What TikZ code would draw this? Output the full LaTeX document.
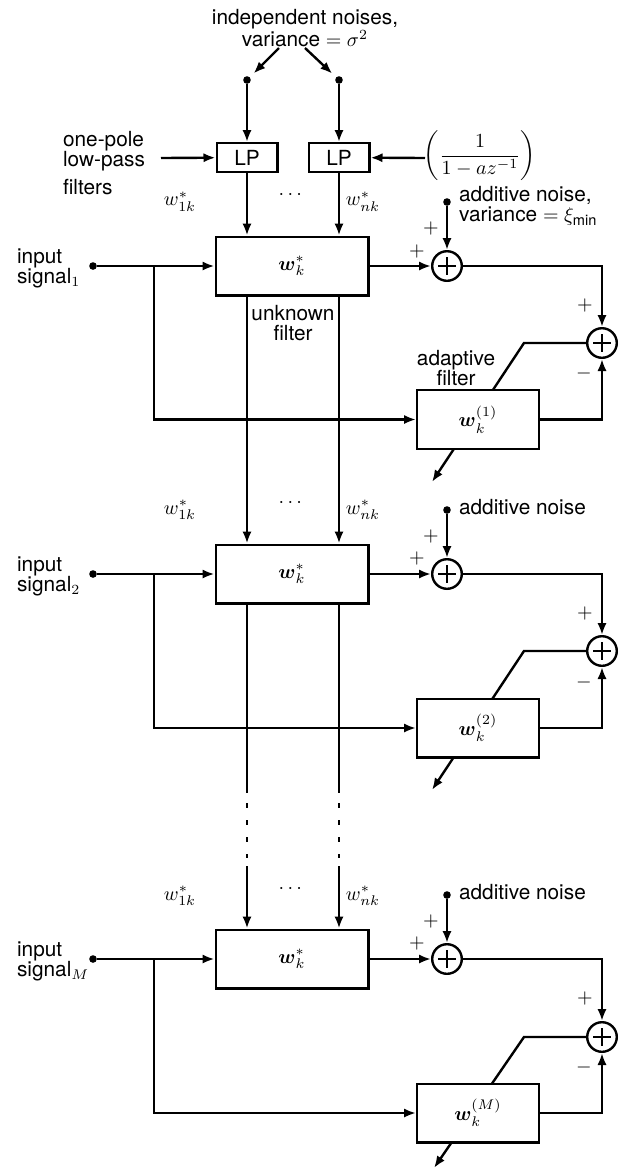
\documentclass[tikz,border=0pt]{standalone}
\usepackage{amsmath}
\usepackage{amssymb}
\usepackage{fontspec}
\setmainfont{TeX Gyre Heros}
\usetikzlibrary{arrows.meta,positioning,backgrounds}
\tikzset{
  every node/.style={font=\fontsize{10.4pt}{10pt}\selectfont},
  filterbox/.style={draw, line width=1.2pt, fill=white, minimum width=76.3pt, minimum height=29.3pt, inner sep=0pt},
  adaptbox/.style={filterbox, minimum width=60.8pt},
  lpbox/.style={draw, line width=1.2pt, minimum width=30.3pt, minimum height=14.3pt, inner sep=0pt},
  sumnode/.style={draw, circle, line width=1.2pt, minimum size=14.8pt, inner sep=0pt,
    path picture={\draw[line width=1.2pt] ([xshift=-4.3pt]path picture bounding box.center) -- ([xshift=4.3pt]path picture bounding box.center)
      ([yshift=-4.3pt]path picture bounding box.center) -- ([yshift=4.3pt]path picture bounding box.center);}},
  src/.style={circle, fill, inner sep=0pt, minimum size=3.8pt},
  sign/.style={inner sep=0pt},
  wire/.style={line width=1.2pt},
  flow/.style={-{Latex[length=6pt, width=4.6pt]}, line width=1.2pt}
}
\begin{document}
\begin{tikzpicture}[x=0.5pt, y=-0.5pt]
\useasboundingbox (0,0) rectangle (623,1175);
% noise sources and low-pass filters
\node[align=center] (noises) at (305,28) {independent noises,\\variance $=\sigma^2$};
\node[src] (src1) at (247,80) {};
\node[src] (src2) at (339,80) {};
\coordinate (tail1) at (279,48);
\coordinate (tail2) at (305,48);
\node[lpbox] (lp1) at (247,157.5) {LP};
\node[lpbox] (lp2) at (339,157.5) {LP};
\node[align=left, anchor=west] (lptext) at (56,163) {one-pole\\low-pass\\[4pt]filters};
\coordinate (lpin) at (161,158);
\node (coef) at (480,156) {$\left(\dfrac{1}{1-az^{-1}}\right)$};
\coordinate (coefin) at (425,158);
\draw[flow, shorten >=2.5pt] (tail1) -- (src1);
\draw[flow, shorten >=2.5pt] (tail2) -- (src2);
\draw[flow] (src1) -- (lp1);
\draw[flow] (src2) -- (lp2);
\draw[flow] (lpin) -- (lp1);
\draw[flow] (coefin) -- (lp2);

% stage 1
\node[filterbox] (unk1) at (292,266) {\raisebox{2pt}{$\boldsymbol{w}^*_k$}\hspace{10pt}};
\node (w11) at (180,202) {$w^*_{1k}$};
\node (wn1) at (363,202) {$w^*_{nk}$};
\node (dots1) at (292,195) {$\cdots$};
\node[align=center] (unktext) at (293,323) {unknown\\filter};
\node[src] (sig1) at (93,266) {};
\node[align=left, anchor=west] (sig1text) at (10,268) {input\\signal$_1$};
\coordinate (br1) at (154,266);
\node[sumnode] (sum1) at (447,266) {};
\node[src] (nz1) at (447,202) {};
\node[align=left, anchor=west] (nz1text) at (452,206) {additive noise,\\variance $=\xi_{\text{min}}$};
\node[sumnode] (err1) at (602,343) {};
\node[adaptbox] (ada1) at (478,419.5) {\raisebox{3pt}{$\boldsymbol{w}^{(1)}_k$}\hspace{11.5pt}};
\node[align=center] (adatext) at (456,368) {adaptive\\filter};
\coordinate (knee1) at (524,343);
\coordinate (adj1) at (432,482);
\node[sign] at (431,228) {$+$};
\node[sign] at (417,251) {$+$};
\node[sign] at (585,305) {$+$};
\node[sign] at (584,373) {$-$};
\draw[flow] (lp1) -- (lp1 |- unk1.north);
\draw[flow] (lp2) -- (lp2 |- unk1.north);
\draw[flow] (sig1) -- (unk1);
\draw[flow] (br1) |- (ada1);
\draw[flow] (unk1) -- (sum1);
\draw[flow] (nz1) -- (sum1);
\draw[flow] (sum1) -| (err1);
\draw[flow] (ada1) -| (err1);
\begin{scope}[on background layer]
\draw[flow] (err1) -- (knee1) -- (adj1);
\end{scope}

% stage 2
\node[filterbox] (unk2) at (292,574) {\raisebox{2pt}{$\boldsymbol{w}^*_k$}\hspace{10pt}};
\node (w12) at (180,510) {$w^*_{1k}$};
\node (wn2) at (363,510) {$w^*_{nk}$};
\node (dots2) at (292,503) {$\cdots$};
\node[src] (sig2) at (93,574) {};
\node[align=left, anchor=west] (sig2text) at (10,576) {input\\signal$_2$};
\coordinate (br2) at (154,574);
\node[sumnode] (sum2) at (447,574) {};
\node[src] (nz2) at (447,510) {};
\node[anchor=west] (nz2text) at (452,507) {additive noise};
\node[sumnode] (err2) at (602,651) {};
\node[adaptbox] (ada2) at (478,728) {\raisebox{3pt}{$\boldsymbol{w}^{(2)}_k$}\hspace{11.5pt}};
\coordinate (knee2) at (524,651);
\coordinate (adj2) at (432,790);
\node[sign] at (431,536) {$+$};
\node[sign] at (417,558) {$+$};
\node[sign] at (585,613) {$+$};
\node[sign] at (584,682) {$-$};
\draw[flow] (lp1 |- unk1.south) -- (lp1 |- unk2.north);
\draw[flow] (lp2 |- unk1.south) -- (lp2 |- unk2.north);
\draw[flow] (sig2) -- (unk2);
\draw[flow] (br2) |- (ada2);
\draw[flow] (unk2) -- (sum2);
\draw[flow] (nz2) -- (sum2);
\draw[flow] (sum2) -| (err2);
\draw[flow] (ada2) -| (err2);
\begin{scope}[on background layer]
\draw[flow] (err2) -- (knee2) -- (adj2);
\end{scope}

% gap between stage 2 and stage M
\coordinate (gaptop) at (0,793);
\coordinate (dotstart) at (0,803);
\coordinate (dotend) at (0,858);
\coordinate (gapbot) at (0,866);
\draw[wire] (lp1 |- unk2.south) -- (lp1 |- gaptop);
\draw[wire] (lp2 |- unk2.south) -- (lp2 |- gaptop);
\draw[wire, dash pattern=on 2.5pt off 6pt] (lp1 |- dotstart) -- (lp1 |- dotend);
\draw[wire, dash pattern=on 2.5pt off 6pt] (lp2 |- dotstart) -- (lp2 |- dotend);

% stage M
\node[filterbox] (unk3) at (292,959) {\raisebox{2pt}{$\boldsymbol{w}^*_k$}\hspace{10pt}};
\node (w13) at (180,896) {$w^*_{1k}$};
\node (wn3) at (363,896) {$w^*_{nk}$};
\node (dots3) at (292,889) {$\cdots$};
\node[src] (sig3) at (93,959) {};
\node[align=left, anchor=west] (sig3text) at (10,961) {input\\signal$_M$};
\coordinate (br3) at (154,959);
\node[sumnode] (sum3) at (447,959) {};
\node[src] (nz3) at (447,895) {};
\node[anchor=west] (nz3text) at (452,892) {additive noise};
\node[sumnode] (err3) at (602,1037) {};
\node[adaptbox] (ada3) at (478,1113) {\raisebox{3pt}{$\boldsymbol{w}^{(M)}_k$}\hspace{11.5pt}};
\coordinate (knee3) at (524,1037);
\coordinate (adj3) at (434,1168);
\node[sign] at (431,921) {$+$};
\node[sign] at (417,943) {$+$};
\node[sign] at (585,998) {$+$};
\node[sign] at (584,1067) {$-$};
\draw[flow] (lp1 |- gapbot) -- (lp1 |- unk3.north);
\draw[flow] (lp2 |- gapbot) -- (lp2 |- unk3.north);
\draw[flow] (sig3) -- (unk3);
\draw[flow] (br3) |- (ada3);
\draw[flow] (unk3) -- (sum3);
\draw[flow] (nz3) -- (sum3);
\draw[flow] (sum3) -| (err3);
\draw[flow] (ada3) -| (err3);
\begin{scope}[on background layer]
\draw[flow] (err3) -- (knee3) -- (adj3);
\end{scope}
\end{tikzpicture}
\end{document}
